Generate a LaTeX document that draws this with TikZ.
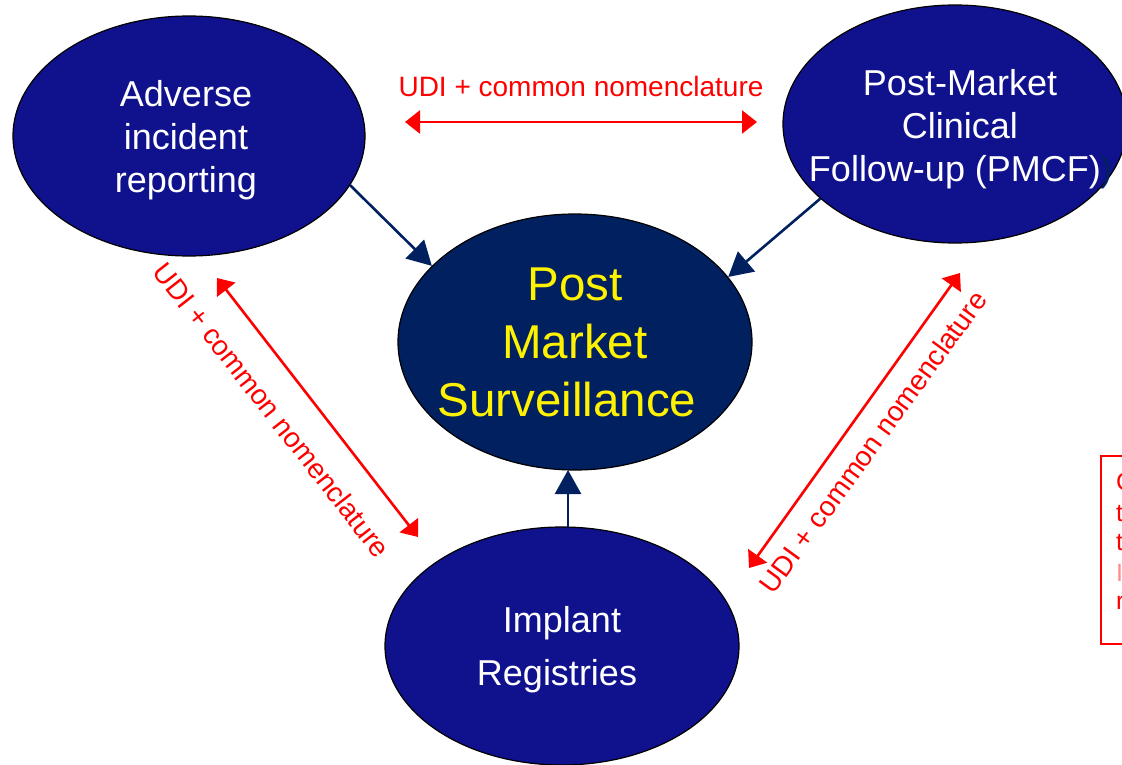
\documentclass[tikz,border=0pt]{standalone}
\usepackage{fontspec}
\setmainfont{Liberation Sans}
\usetikzlibrary{shapes.geometric,arrows.meta}
\definecolor{outerblue}{RGB}{16,17,140}
\definecolor{pmsnavy}{RGB}{0,32,96}
\definecolor{udired}{RGB}{255,0,0}
\tikzset{
  outerell/.style={ellipse, draw=black, line width=1.2pt, fill=outerblue, inner sep=0pt},
  pmsell/.style={ellipse, draw=black, line width=1.2pt, fill=pmsnavy, inner sep=0pt},
  outertext/.style={text=white, inner sep=0pt, align=center, font=\fontsize{36}{43}\selectfont},
  pmstext/.style={text=yellow, inner sep=0pt, align=center, font=\fontsize{47.5}{58}\selectfont},
  navyarrow/.style={draw=pmsnavy, line width=2.6pt, -{Triangle[length=24pt,width=26pt]}},
  redarrow/.style={draw=udired, line width=2.6pt, {Triangle[length=15pt,width=23pt]}-{Triangle[length=15pt,width=23pt]}},
  udilabel/.style={text=udired, inner sep=0pt, font=\fontsize{28}{34}\selectfont},
  boxfrag/.style={text=udired, inner sep=0pt, anchor=west, font=\fontsize{25}{30}\selectfont}
}
\begin{document}
\begin{tikzpicture}[x=1pt,y=-1pt]
\useasboundingbox (0,0) rectangle (1122,765);
\clip (0,0) rectangle (1122,765);
\fill[white] (0,0) rectangle (1122,765);
% ellipses
\node[outerell, minimum width=352pt, minimum height=240pt] (adv) at (189,136) {};
\node[outerell, minimum width=344pt, minimum height=238pt] (pmcf) at (955,124) {};
\node[pmsell, minimum width=354pt, minimum height=256pt] (pms) at (575,342) {};
\node[outerell, minimum width=354pt, minimum height=238pt] (imp) at (562,646) {};
% ellipse texts
\node[outertext] (advt) at (186,140) {Adverse\\incident\\reporting};
\node[outertext] (pmcft) at (955,129) {\hbox{\kern10pt Post-Market}\\\hbox{\kern10pt Clinical}\\Follow-up (PMCF)\rlap{\hspace{-1pt}\textcolor{pmsnavy}{)}}};
\node[pmstext] (pmst) at (575,342) {Post\\Market\\\hbox{Surveillance\kern16pt}};
\node[outertext] (impt) at (562,650) {Implant\\[10pt]\hbox{Registries\kern10pt}};
% navy arrows
\draw[navyarrow] (adv.-17) -- (pms.152);
\draw[navyarrow] (pmcf.-151) -- (pms.23);
\coordinate (impTop) at (568,527);
\coordinate (pmsBot) at (568,470);
\draw[navyarrow] (impTop) -- (pmsBot);
% red double arrows
\coordinate (h1) at (405,122);
\coordinate (h2) at (757,122);
\draw[redarrow] (h1) -- (h2);
\coordinate (l1) at (217,278);
\coordinate (l2) at (418,537);
\draw[redarrow] (l1) -- (l2);
\coordinate (r1) at (960,273);
\coordinate (r2) at (749,568);
\draw[redarrow] (r1) -- (r2);
% labels
\node[udilabel] (labtop) at (581,86) {UDI + common nomenclature};
\node[udilabel, rotate=-52] (lableft) at (272,410) {UDI + common nomenclature};
\node[udilabel, rotate=54] (labright) at (873,442) {UDI + common nomenclature};
% clipped red box at the right edge
\node[draw=udired, line width=1.5pt, minimum width=60pt, minimum height=188pt, anchor=north west, inner sep=0pt] (rbox) at (1100,455) {};
\node[boxfrag] (f1) at (1116,482) {C};
\node[boxfrag] (f2) at (1116,514) {t};
\node[boxfrag] (f3) at (1116,543) {t};
\node[boxfrag, text=udired!45] (f4) at (1116,573) {I};
\node[boxfrag] (f5) at (1116,603) {r};
\end{tikzpicture}
\end{document}
